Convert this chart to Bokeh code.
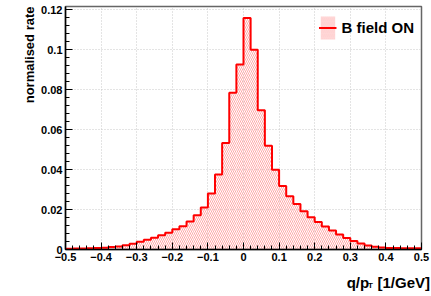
import numpy as np
from bokeh.plotting import figure
from bokeh.models import Range1d, FixedTicker, Label, Legend, LegendItem, Title
from bokeh.embed import file_html
from bokeh.resources import INLINE

# ---- data -------------------------------------------------------------
bin_edges = list(np.round(np.linspace(-0.5, 0.5, 51), 4))
rate = [0.0004, 0.0005, 0.0005, 0.0006, 0.0007, 0.0009, 0.0012, 0.0015, 0.0021, 0.0029,
        0.0039, 0.0049, 0.0059, 0.0071, 0.0084, 0.0102, 0.0117, 0.0140, 0.0171, 0.0210,
        0.0280, 0.0375, 0.0533, 0.0785, 0.0926,
        0.1160, 0.1000, 0.0697, 0.0520, 0.0400, 0.0318, 0.0267, 0.0228, 0.0192, 0.0162,
        0.0138, 0.0115, 0.0095, 0.0075, 0.0058, 0.0043, 0.0030, 0.0020, 0.0014, 0.0010,
        0.0008, 0.0007, 0.0006, 0.0006, 0.0006]
x_ticks = [-0.5, -0.4, -0.3, -0.2, -0.1, 0.0, 0.1, 0.2, 0.3, 0.4, 0.5]
x_tick_labels = ["\u22120.5", "\u22120.4", "\u22120.3", "\u22120.2", "\u22120.1", "0",
                 "0.1", "0.2", "0.3", "0.4", "0.5"]
y_ticks = [0.0, 0.02, 0.04, 0.06, 0.08, 0.1, 0.12]
y_tick_labels = ["0", "0.02", "0.04", "0.06", "0.08", "0.1", "0.12"]
legend_label = "B field ON"
x_title_text = "q/p\u00a0\u00a0[1/GeV]"
x_title_sub = "T"
y_title = "normalised rate"
# ----------------------------------------------------------------------

FONT = "Liberation Sans"
RED = "#ff0000"

x_lo, x_hi = -0.5, 0.5
y_lo, y_hi = 0.0, 0.1217

W, H = 431, 296
p = figure(width=W, height=H, output_backend="svg", toolbar_location=None,
           x_range=Range1d(x_lo, x_hi), y_range=Range1d(y_lo, y_hi),
           min_border_left=65, min_border_right=10, min_border_top=6, min_border_bottom=47,
           background_fill_color="white", border_fill_color="white")

p.outline_line_color = "#666666"
p.outline_line_width = 1.5

quad_r = p.quad(left=bin_edges[:-1], right=bin_edges[1:], bottom=0, top=rate,
                fill_alpha=0, line_alpha=0,
                hatch_pattern="\\", hatch_color="#ffa8a8", hatch_scale=4, hatch_weight=1)
step_r = p.step(x=bin_edges, y=rate + [rate[-1]], mode="after", line_color=RED, line_width=2)

# axes
x_minor = [round(v, 4) for v in np.arange(-0.5, 0.5001, 0.02)]
y_minor = [round(v, 4) for v in np.arange(0.0, 0.1217, 0.004)]
p.xaxis.ticker = FixedTicker(ticks=x_ticks, minor_ticks=x_minor)
p.yaxis.ticker = FixedTicker(ticks=y_ticks, minor_ticks=y_minor)
p.xaxis.major_label_overrides = {t: l for t, l in zip(x_ticks, x_tick_labels)}
p.yaxis.major_label_overrides = {t: l for t, l in zip(y_ticks, y_tick_labels)}
for ax in (p.xaxis, p.yaxis):
    ax.major_tick_in = 7
    ax.major_tick_out = 0
    ax.minor_tick_in = 4
    ax.minor_tick_out = 0
    ax.axis_line_color = "black"
    ax.axis_line_width = 1.5
    ax.major_tick_line_color = "black"
    ax.minor_tick_line_color = "black"
    ax.major_label_text_font = FONT
    ax.major_label_text_font_style = "bold"
    ax.major_label_text_font_size = "11px"
    ax.major_label_text_color = "black"
p.xaxis.major_label_standoff = 3
p.yaxis.major_label_standoff = 3

p.grid.grid_line_color = "#c8c8c8"
p.grid.grid_line_dash = "1 2"
p.grid.grid_line_width = 1

# y title (top aligned, ROOT style)
p.add_layout(Title(text=y_title, align="right", text_font=FONT, text_font_style="bold",
                   text_font_size="13px", text_color="black", standoff=4), "left")

# x title with subscript (side panels are not clipped to the frame)
px_x = (x_hi - x_lo) / 356.0
px_y = (y_hi - y_lo) / 243.0
p.add_layout(Label(x=x_hi + 8.5 * px_x, y=-32.5 * px_y, text=x_title_text,
                   text_align="right", text_baseline="alphabetic", text_font=FONT,
                   text_font_style="bold", text_font_size="15px", text_color="black"), "below")
p.add_layout(Label(x=x_hi - 48.5 * px_x, y=-36 * px_y, text=x_title_sub,
                   text_align="right", text_baseline="alphabetic", text_font=FONT,
                   text_font_style="bold", text_font_size="8px", text_color="black"), "left")

legend = Legend(items=[LegendItem(label=legend_label, renderers=[quad_r, step_r])],
                location="top_right", margin=0, padding=7, label_standoff=5,
                glyph_width=18, glyph_height=29, spacing=0,
                label_text_font=FONT, label_text_font_style="bold",
                label_text_font_size="15px", label_text_color="black",
                background_fill_alpha=0, border_line_alpha=0)
p.add_layout(legend)

open("out.html", "w").write(file_html(p, INLINE))
